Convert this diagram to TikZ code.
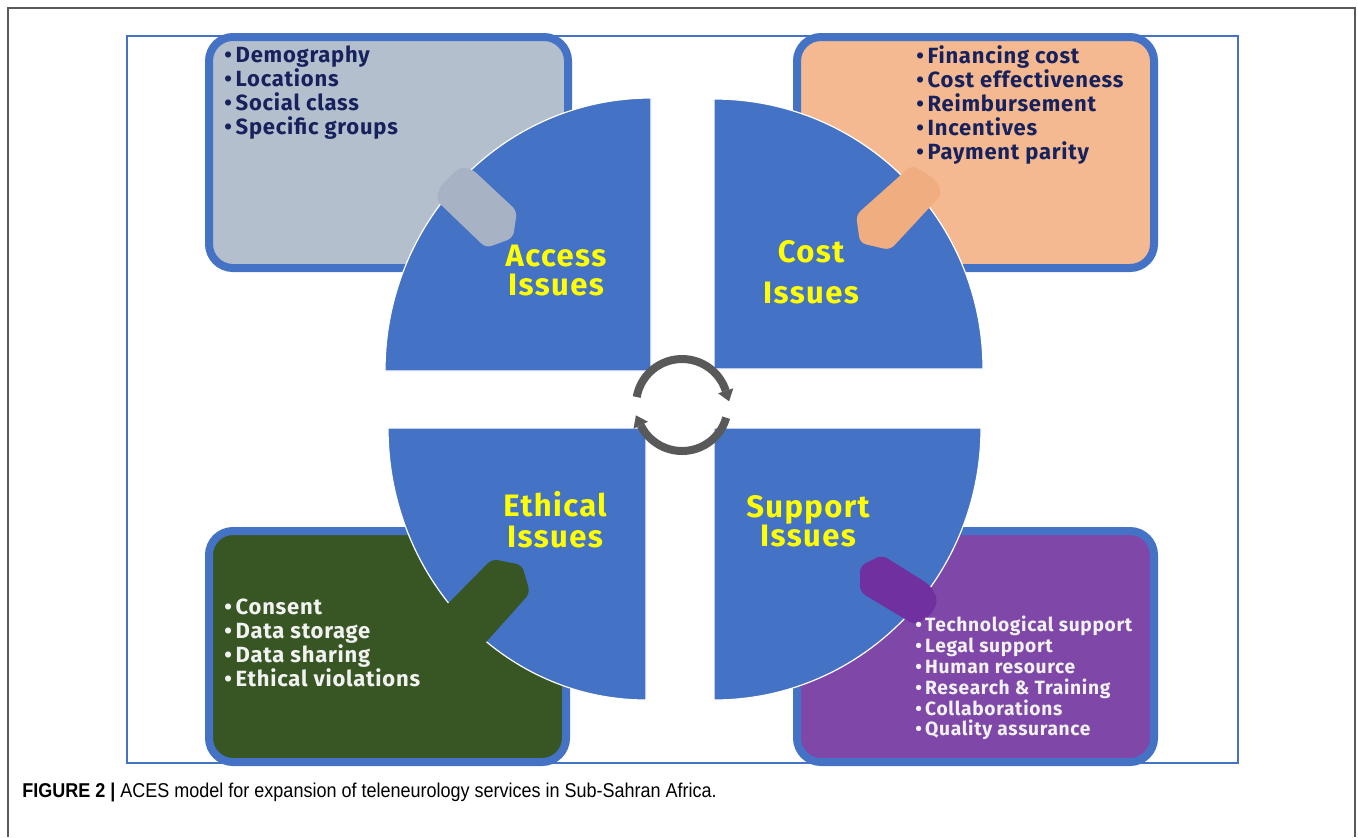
\documentclass[tikz,border=0pt]{standalone}
\usepackage{fontspec}
\setmainfont{Fira Sans}
\newfontfamily\itemfam[LetterSpace=3.5]{Fira Sans}
\newfontfamily\labelfam[LetterSpace=4.5]{Fira Sans}
\newfontfamily\capfont{Liberation Sans}
\usepackage{tikz}

\definecolor{aceblue}{HTML}{4472C4}
\definecolor{framegray}{HTML}{595959}
\definecolor{arrowgray}{HTML}{595959}
\definecolor{accessfill}{HTML}{B4BFCE}
\definecolor{accesstab}{HTML}{A7B2C5}
\definecolor{costfill}{HTML}{F4B990}
\definecolor{costtab}{HTML}{F0AD80}
\definecolor{ethicfill}{HTML}{385623}
\definecolor{supportfill}{HTML}{7F47A8}
\definecolor{supporttab}{HTML}{7030A0}
\definecolor{navytext}{HTML}{17215C}
\definecolor{lighttext}{HTML}{F2F2F2}
\definecolor{labelyellow}{HTML}{FFFF00}

\newcommand\itemfont{\itemfam\bfseries\fontsize{11}{12}\selectfont}
\newcommand\smallitemfont{\itemfam\bfseries\fontsize{9.6}{10.4}\selectfont}

\begin{document}
\begin{tikzpicture}[x=0.5pt,y=-0.5pt]
\tikzset{
  frameline/.style={draw=framegray, line width=0.9pt},
  issuebox/.style={draw=aceblue, line width=4pt, rounded corners=12pt},
  quarter/.style={fill=aceblue, draw=white, line width=0.6pt},
  tab/.style={rounded corners=3pt},
  itemlist/.style={anchor=north west, align=left, inner sep=0pt, font=\itemfont},
  issuelabel/.style={text=labelyellow, align=center, inner sep=0pt},
  cyclearc/.style={draw=arrowgray, line width=4pt}
}
\useasboundingbox (0,0) rectangle (1358,837);
% figure frame and panel
\draw [frameline] (8,837) -- (8,8) -- (1355,8) -- (1355,837);
\draw [aceblue, line width=0.8pt] (127,36) rectangle (1238,763);
% the four boxes
\draw [issuebox, fill=accessfill] (209,37) rectangle (568,268);
\draw [issuebox, fill=costfill] (797,37) rectangle (1154,268);
\draw [issuebox, fill=ethicfill] (209,531) rectangle (566,762);
\draw [issuebox, fill=supportfill] (797,531) rectangle (1154,762);
% the four quarters
\fill [quarter] (651,371) -- (385,371) arc[start angle=180, end angle=270, x radius=266, y radius=273] -- cycle;
\fill [quarter] (714,369) -- (983,369) arc[start angle=0, end angle=-90, x radius=269, y radius=270] -- cycle;
\fill [quarter] (646,428) -- (388,428) arc[start angle=180, end angle=90, x radius=258, y radius=272] -- cycle;
\fill [quarter] (714,428) -- (981,428) arc[start angle=0, end angle=90, x radius=267, y radius=272] -- cycle;
% tabs
\fill [accesstab, tab] (460,167) -- (440,186) -- (436,200) -- (486,248) -- (513,238) -- (517,211) -- (472,169) -- cycle;
\fill [costtab, tab] (912,165) -- (936,180) -- (942,194) -- (890,250) -- (860,243) -- (856,215) -- cycle;
\fill [ethicfill, tab] (430,622) -- (492,559) -- (522,565) -- (530,593) -- (470,660) -- cycle;
\fill [supporttab, tab] (882,555) -- (860,566) -- (860,592) -- (915,625) -- (932,614) -- (938,600) -- (930,585) -- cycle;
% labels
\node [issuelabel, font=\labelfam\bfseries\fontsize{15.5}{14.5}\selectfont] (accesslbl) at (556,271) {Access\\Issues};
\node [issuelabel, font=\labelfam\bfseries\fontsize{15.5}{20.5}\selectfont] (costlbl) at (811,272) {Cost\\Issues};
\node [issuelabel, font=\labelfam\bfseries\fontsize{15.5}{15.5}\selectfont] (ethiclbl) at (555,520) {Ethical\\Issues};
\node [issuelabel, font=\labelfam\bfseries\fontsize{15.5}{14.5}\selectfont] (supportlbl) at (808,521) {Support\\Issues};
% item lists
\node [itemlist, text=navytext] (accessitems) at (224,45) {\textbullet\,Demography\\\textbullet\,Locations\\\textbullet\,Social class\\\textbullet\,Specific groups};
\node [itemlist, text=navytext] (costitems) at (916,45) {\textbullet\,Financing cost\\\textbullet\,Cost effectiveness\\\textbullet\,Reimbursement\\\textbullet\,Incentives\\\textbullet\,Payment parity};
\node [itemlist, text=lighttext] (ethicitems) at (224,598) {\textbullet\,Consent\\\textbullet\,Data storage\\\textbullet\,Data sharing\\\textbullet\,Ethical violations};
\node [itemlist, text=lighttext, font=\smallitemfont] (supportitems) at (915,616) {\textbullet\,Technological support\\\textbullet\,Legal support\\\textbullet\,Human resource\\\textbullet\,Research \& Training\\\textbullet\,Collaborations\\\textbullet\,Quality assurance};
% cycle arrows
\draw [cyclearc] (682,405) ++(190:46) arc[start angle=190, end angle=342, radius=46];
\fill [arrowgray] (733.3,388.3) -- (729.1,401.3) -- (718.1,393.3) -- cycle;
\draw [cyclearc] (682,405) ++(16:46) arc[start angle=16, end angle=154, radius=46];
\fill [arrowgray] (633.5,428.7) -- (635.9,415.3) -- (647.9,421.7) -- cycle;
% caption
\node [anchor=west, inner sep=0pt] (caption) at (22,792) {\scalebox{0.9}[1]{\capfont\fontsize{10}{12}\selectfont\textbf{FIGURE 2 |} ACES model for expansion of teleneurology services in Sub-Sahran Africa.}};
\end{tikzpicture}
\end{document}
